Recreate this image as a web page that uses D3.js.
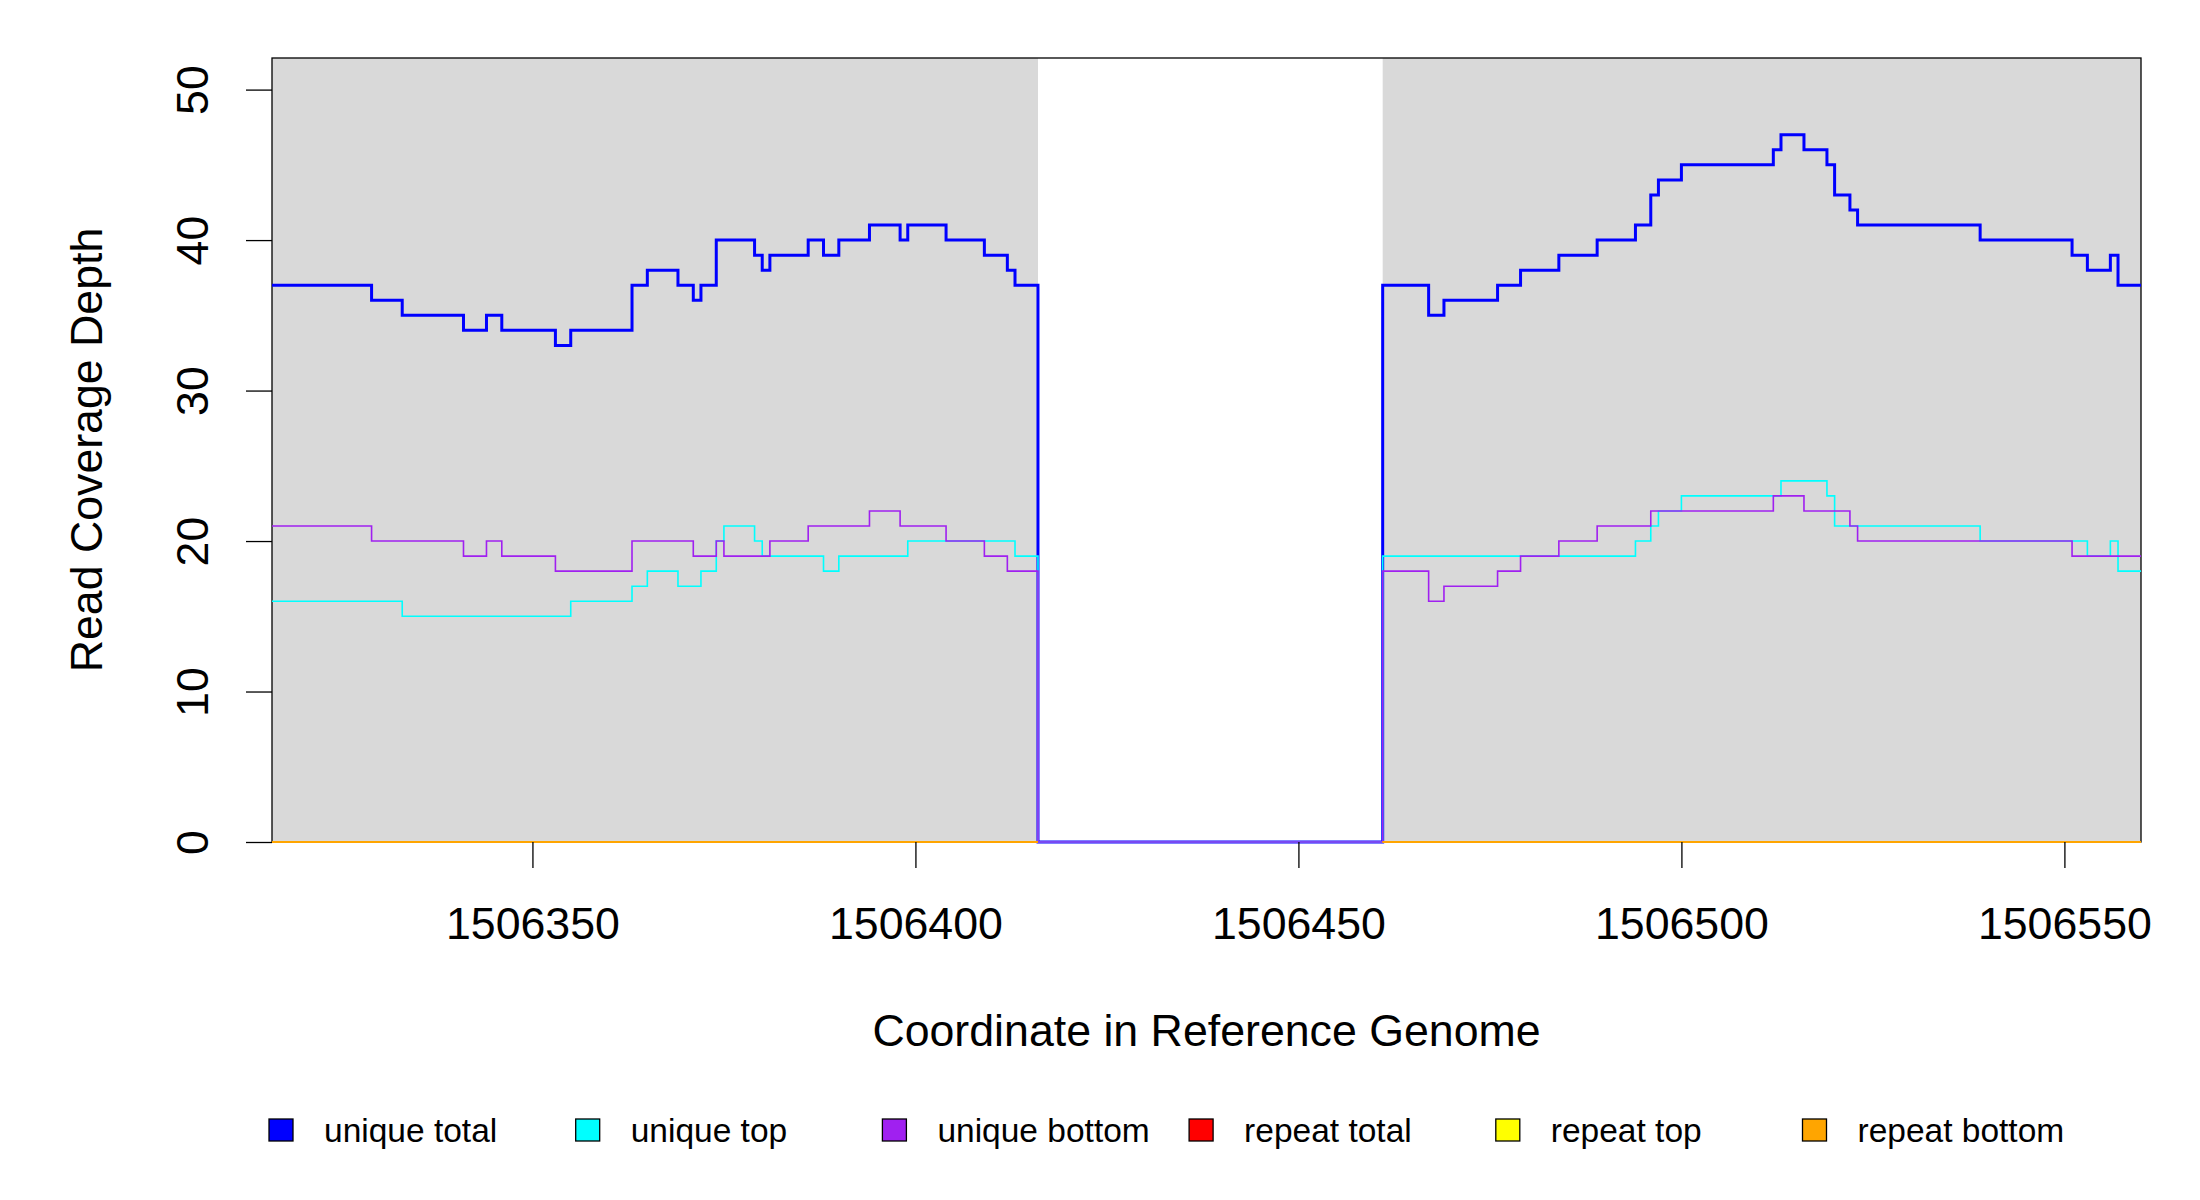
<!DOCTYPE html>
<html>
<head>
<meta charset="utf-8">
<script src="https://cdn.jsdelivr.net/npm/d3@7"></script>
<style>
  body { margin: 0; background: #fff; }
  text { font-family: "Liberation Sans", Arial, sans-serif; fill: #000; }
</style>
</head>
<body>
<div id="chart"></div>
<script>
// --- data: [start position, depth] step changes ---
const exons = [[1506316, 1506416], [1506461, 1506560]]
const regionEnd = 1506560

const uniqueTotal = [
  [1506316, 37], [1506329, 36], [1506333, 35], [1506341, 34], [1506344, 35], [1506346, 34],
  [1506353, 33], [1506355, 34], [1506363, 37], [1506365, 38], [1506369, 37], [1506371, 36],
  [1506372, 37], [1506374, 40], [1506379, 39], [1506380, 38], [1506381, 39], [1506386, 40],
  [1506388, 39], [1506390, 40], [1506394, 41], [1506398, 40], [1506399, 41], [1506404, 40],
  [1506409, 39], [1506412, 38], [1506413, 37], [1506416, 0],
  [1506461, 37], [1506467, 35], [1506469, 36], [1506476, 37], [1506479, 38], [1506484, 39],
  [1506489, 40], [1506494, 41], [1506496, 43], [1506497, 44], [1506500, 45], [1506512, 46],
  [1506513, 47], [1506516, 46], [1506519, 45], [1506520, 43], [1506522, 42], [1506523, 41],
  [1506539, 40], [1506551, 39], [1506553, 38], [1506556, 39], [1506557, 37]
]

const uniqueTop = [
  [1506316, 16], [1506333, 15], [1506355, 16], [1506363, 17], [1506365, 18], [1506369, 17],
  [1506372, 18], [1506374, 20], [1506375, 21], [1506379, 20], [1506380, 19], [1506388, 18],
  [1506390, 19], [1506399, 20], [1506413, 19], [1506416, 0],
  [1506461, 19], [1506494, 20], [1506496, 21], [1506497, 22], [1506500, 23], [1506513, 24],
  [1506519, 23], [1506520, 21], [1506539, 20], [1506553, 19], [1506556, 20], [1506557, 18]
]

const uniqueBottom = [
  [1506316, 21], [1506329, 20], [1506341, 19], [1506344, 20], [1506346, 19], [1506353, 18],
  [1506363, 20], [1506371, 19], [1506374, 20], [1506375, 19], [1506381, 20], [1506386, 21],
  [1506394, 22], [1506398, 21], [1506404, 20], [1506409, 19], [1506412, 18], [1506416, 0],
  [1506461, 18], [1506467, 16], [1506469, 17], [1506476, 18], [1506479, 19], [1506484, 20],
  [1506489, 21], [1506496, 22], [1506512, 23], [1506516, 22], [1506522, 21], [1506523, 20],
  [1506551, 19]
]

// repeat reads: zero over both exons
const repeatTotal = [0, 0]
const repeatTop = [0, 0]
const repeatBottom = [0, 0]

const xTicks = [1506350, 1506400, 1506450, 1506500, 1506550]
const yTicks = [0, 10, 20, 30, 40, 50]

const legendNames = ['unique total', 'unique top', 'unique bottom', 'repeat total', 'repeat top', 'repeat bottom']
const legendColors = ['#0000ff', '#00ffff', '#a020f0', '#ff0000', '#ffff00', '#ffa500']

// --- layout ---
const width = 2200
const height = 1200
const plotLeft = 272, plotRight = 2141, plotTop = 58, plotBottom = 842
const fontMain = '44.7px'

const x = d3.scaleLinear().domain([1506316, regionEnd]).range([plotLeft, plotRight])
const y = d3.scaleLinear().domain([0, 52.1]).range([plotBottom, plotTop])

const svg = d3.select('#chart').append('svg')
  .attr('width', width)
  .attr('height', height)
  .attr('xmlns', 'http://www.w3.org/2000/svg')

svg.append('rect').attr('width', width).attr('height', height).attr('fill', '#fff')

// grey exon bands
svg.append('g').selectAll('rect')
  .data(exons)
  .join('rect')
    .attr('x', d => x(d[0]))
    .attr('width', d => x(d[1]) - x(d[0]))
    .attr('y', plotTop)
    .attr('height', plotBottom - plotTop)
    .attr('fill', '#d9d9d9')

// box
svg.append('rect')
  .attr('x', plotLeft).attr('y', plotTop)
  .attr('width', plotRight - plotLeft).attr('height', plotBottom - plotTop)
  .attr('fill', 'none')
  .attr('stroke', '#000')
  .attr('stroke-width', 1.3)

const line = d3.line()
  .x(d => x(d[0]))
  .y(d => y(d[1]))
  .curve(d3.curveStepAfter)

function withEnd(steps) {
  return steps.concat([[regionEnd, steps[steps.length - 1][1]]])
}

const series = [
  { steps: uniqueTotal, color: legendColors[0], w: 3 },
  { steps: uniqueTop, color: legendColors[1], w: 1.6 },
  { steps: uniqueBottom, color: legendColors[2], w: 1.6 }
]

svg.append('g').selectAll('path')
  .data(series)
  .join('path')
    .attr('d', d => line(withEnd(d.steps)))
    .attr('fill', 'none')
    .attr('stroke', d => d.color)
    .attr('stroke-width', d => d.w)

// repeat series, one path per exon
const repeats = [
  { vals: repeatTotal, color: legendColors[3] },
  { vals: repeatTop, color: legendColors[4] },
  { vals: repeatBottom, color: legendColors[5] }
]
repeats.forEach(function(r) {
  svg.append('g').selectAll('path')
    .data(exons)
    .join('path')
      .attr('d', (e, i) => line([[e[0], r.vals[i]], [e[1], r.vals[i]]]))
      .attr('fill', 'none')
      .attr('stroke', r.color)
      .attr('stroke-width', 1.8)
})

// x axis
const xAxis = svg.append('g').attr('transform', `translate(0,${plotBottom})`)
  .call(d3.axisBottom(x).tickValues(xTicks).tickSize(26).tickPadding(0).tickFormat(d3.format('d')))
xAxis.select('.domain').remove()
xAxis.selectAll('line').attr('stroke', '#000').attr('stroke-width', 1.3)
xAxis.selectAll('text')
  .attr('y', 97)
  .attr('dy', null)
  .style('font-size', fontMain)
  .style('font-family', '"Liberation Sans", Arial, sans-serif')

// y axis
const yAxis = svg.append('g').attr('transform', `translate(${plotLeft},0)`)
  .call(d3.axisLeft(y).tickValues(yTicks).tickSize(26).tickPadding(0))
yAxis.select('.domain').remove()
yAxis.selectAll('line').attr('stroke', '#000').attr('stroke-width', 1.3)
yAxis.selectAll('text')
  .attr('x', null)
  .attr('dy', null)
  .attr('text-anchor', 'middle')
  .attr('transform', 'translate(-64,0) rotate(-90)')
  .attr('y', 0)
  .style('font-size', fontMain)
  .style('font-family', '"Liberation Sans", Arial, sans-serif')

// titles
svg.append('text')
  .attr('x', (plotLeft + plotRight) / 2)
  .attr('y', 1046)
  .attr('text-anchor', 'middle')
  .style('font-size', fontMain)
  .text('Coordinate in Reference Genome')

svg.append('text')
  .attr('transform', `translate(102,${(plotTop + plotBottom) / 2}) rotate(-90)`)
  .attr('text-anchor', 'middle')
  .style('font-size', fontMain)
  .text('Read Coverage Depth')

// legend
const legend = svg.append('g').selectAll('g')
  .data(legendNames)
  .join('g')
    .attr('transform', (d, i) => `translate(${269 + i * 306.7},1130)`)

legend.append('rect')
  .attr('x', 0).attr('y', -11)
  .attr('width', 24).attr('height', 22)
  .attr('fill', (d, i) => legendColors[i])
  .attr('stroke', '#000')
  .attr('stroke-width', 1.3)

legend.append('text')
  .attr('x', 55)
  .attr('y', 12)
  .style('font-size', '33.5px')
  .text(d => d)
</script>
</body>
</html>
